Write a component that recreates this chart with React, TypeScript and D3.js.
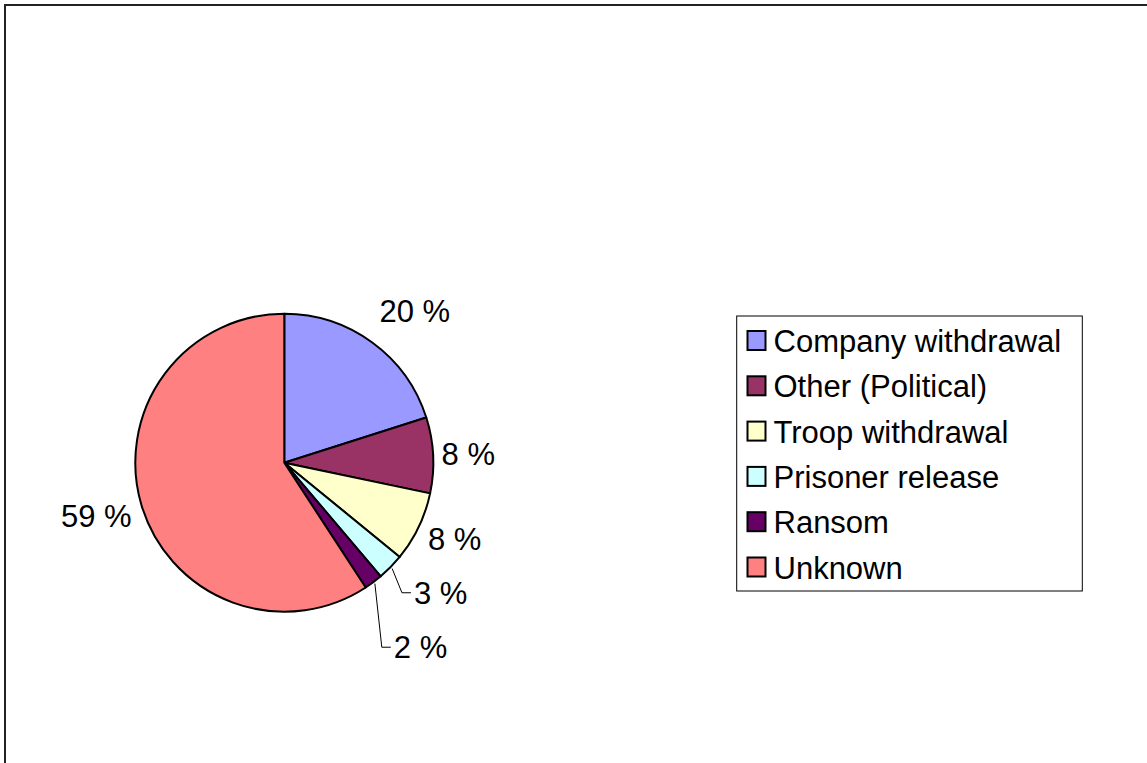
import React from "react";
import * as d3 from "d3";

const categories = ["Company withdrawal", "Other (Political)", "Troop withdrawal", "Prisoner release", "Ransom", "Unknown"];
const values = [20.1, 8.2, 7.6, 2.9, 2.0, 59.2];
const labels = ["20 %", "8 %", "8 %", "3 %", "2 %", "59 %"];
const colors = ["#9999FF", "#993366", "#FFFFCC", "#CCFFFF", "#660066", "#FF8080"];

// layout constants (label placement relative to slice edge point)
const labelOffsets: [number, number][] = [
  [7.2, -20.1],
  [8.5, 10],
  [9.2, 23],
  [23.3, 36.7],
  [20.4, 76.1],
  [-9.8, 21.4],
];
const leaderFor = [false, false, false, true, true, false];

const W = 1147;
const H = 763;
const CX = 284.3;
const CY = 462.7;
const R = 149;
const FONT = "'Liberation Sans', Arial, Helvetica, sans-serif";
const FS = 31;

export default function App() {
  const pie = d3.pie<number>().sort(null).value((d) => d)(values);
  const arc = d3.arc<d3.PieArcDatum<number>>().innerRadius(0).outerRadius(R);

  const legX = 736.7;
  const legY = 316;
  const legW = 345.6;
  const legH = 275;
  const rowH = 45.3;

  return (
    <svg
      width={W}
      height={H}
      style={{ position: "fixed", left: 0, top: 0, background: "#fff" }}
      fontFamily={FONT}
    >
      <rect x={0} y={0} width={W} height={H} fill="#fff" />
      <rect x={5} y={5} width={1160} height={820} fill="none" stroke="#222" strokeWidth={2} />
      <g transform={`translate(${CX},${CY})`}>
        {pie.map((p, i) => (
          <path key={i} d={arc(p) || ""} fill={colors[i]} stroke="#000" strokeWidth={2} strokeLinejoin="round" />
        ))}
      </g>
      {pie.map((p, i) => {
        const mid = (p.startAngle + p.endAngle) / 2;
        const ex = CX + R * Math.sin(mid);
        const ey = CY - R * Math.cos(mid);
        const [ox, oy] = labelOffsets[i];
        const tx = ex + ox;
        const ty = ey + oy;
        const right = Math.sin(mid) >= 0;
        const midY = ty - 11;
        return (
          <g key={i}>
            {leaderFor[i] && (
              <polyline
                points={`${ex + 1.5},${ey + 1.5} ${tx - 12},${midY} ${tx - 3},${midY}`}
                fill="none"
                stroke="#000"
                strokeWidth={1}
              />
            )}
            <text x={tx} y={ty} fontSize={FS} textAnchor={right ? "start" : "end"} fill="#000">
              {labels[i]}
            </text>
          </g>
        );
      })}
      <rect x={legX} y={legY} width={legW} height={legH} fill="#fff" stroke="#000" strokeWidth={1} />
      {categories.map((c, i) => {
        const cy = legY + 24.5 + i * rowH;
        return (
          <g key={c}>
            <rect x={747.5} y={cy - 9.5} width={18} height={19} fill={colors[i]} stroke="#000" strokeWidth={2} />
            <text x={773.5} y={cy + 11.5} fontSize={FS} fill="#000">
              {c}
            </text>
          </g>
        );
      })}
    </svg>
  );
}
